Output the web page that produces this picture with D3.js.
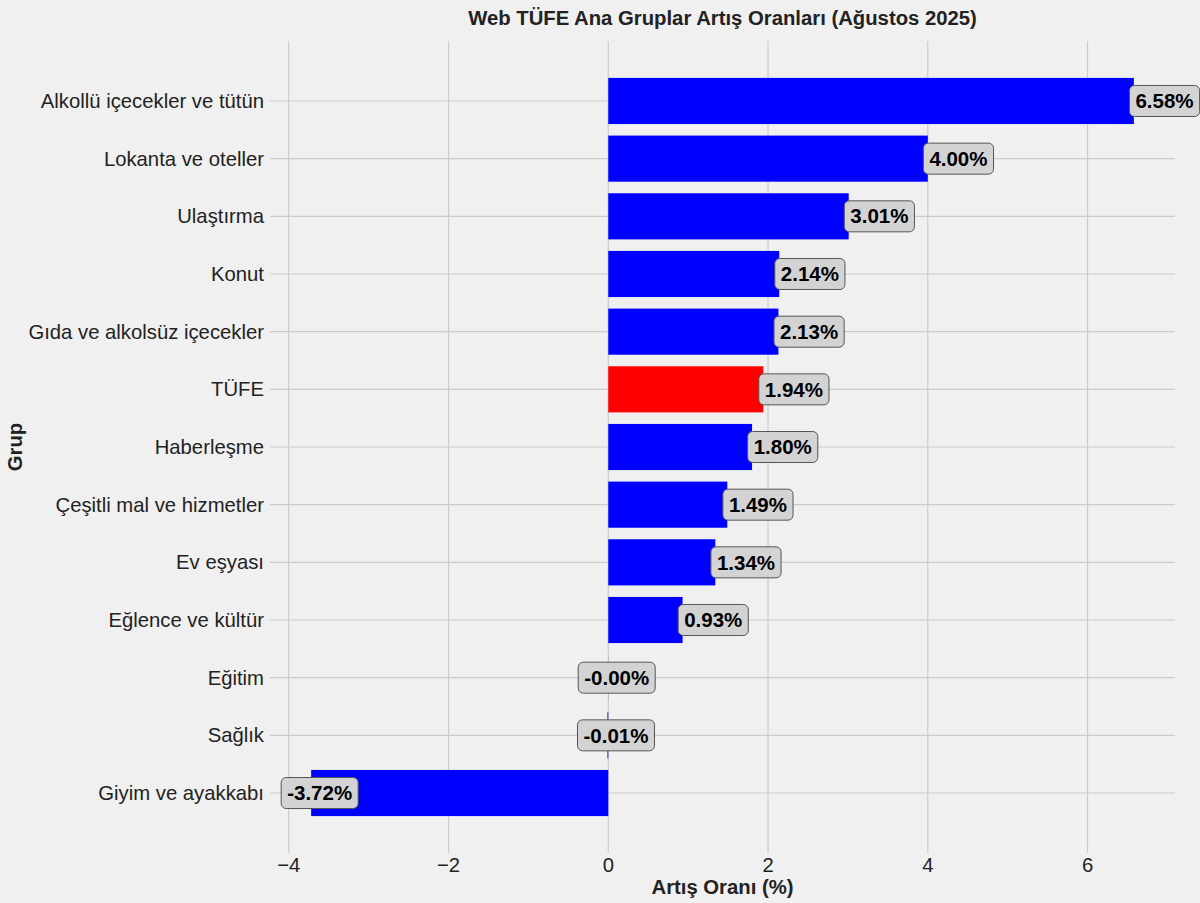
<!DOCTYPE html>
<html><head><meta charset="utf-8">
<script src="https://cdn.jsdelivr.net/npm/d3@7"></script>
<style>html,body{margin:0;padding:0;background:#f0f0f0;}svg{display:block;}</style>
</head><body>
<svg id="c" width="1200" height="903"></svg>
<script>
const categories = ["Alkollü içecekler ve tütün","Lokanta ve oteller","Ulaştırma","Konut","Gıda ve alkolsüz içecekler","TÜFE","Haberleşme","Çeşitli mal ve hizmetler","Ev eşyası","Eğlence ve kültür","Eğitim","Sağlık","Giyim ve ayakkabı"];
const values = [6.58, 4.00, 3.01, 2.14, 2.13, 1.94, 1.80, 1.49, 1.34, 0.93, -0.001, -0.01, -3.72];
const labels = ["6.58%","4.00%","3.01%","2.14%","2.13%","1.94%","1.80%","1.49%","1.34%","0.93%","-0.00%","-0.01%","-3.72%"];
const xTicks = [-4, -2, 0, 2, 4, 6];
const highlight = "TÜFE";

const svg = d3.select("#c");
const font = "'Liberation Sans', Arial, sans-serif";
const L = 270, R = 1175, T = 41, B = 853;
const x = d3.scaleLinear().domain([-4.235, 7.095]).range([L, R]);
const n = categories.length;
const yc = d3.scaleLinear().domain([-1.04, n - 1 + 1.04]).range([T, B]);
const bandH = (yc(1) - yc(0)) * 0.8;

svg.append("rect").attr("width",1200).attr("height",903).attr("fill","#f0f0f0");

const g = svg.append("g");
g.selectAll(".vg").data(xTicks).join("line")
  .attr("x1", d=>x(d)).attr("x2", d=>x(d)).attr("y1", T).attr("y2", B)
  .attr("stroke","#cbcbcb").attr("stroke-width",1.2);
g.selectAll(".hg").data(categories).join("line")
  .attr("x1", L).attr("x2", R).attr("y1", (d,i)=>yc(i)).attr("y2",(d,i)=>yc(i))
  .attr("stroke","#cbcbcb").attr("stroke-width",1.2);

g.selectAll(".bar").data(values).join("rect")
  .attr("x", d=>x(Math.min(0,d)))
  .attr("width", d=>Math.abs(x(d)-x(0)))
  .attr("y", (d,i)=>yc(i)-bandH/2)
  .attr("height", bandH)
  .attr("fill", (d,i)=>categories[i]===highlight ? "#ff0000" : "#0000ff");

const lab = g.selectAll(".lab").data(values).join("g");
lab.each(function(d,i){
  const gg = d3.select(this);
  const tx = d < 0 ? x(d - 0.3) : x(d + 0.02);
  const t = gg.append("text").attr("x", tx).attr("y", yc(i)).attr("dy","0.35em")
    .attr("font-family", font).attr("font-weight","bold").attr("font-size",20.5)
    .attr("fill","#000").text(labels[i]);
  const bb = t.node().getBBox();
  gg.insert("rect","text").attr("x", bb.x-6).attr("y", yc(i)-15.5)
    .attr("width", bb.width+12).attr("height", 31).attr("rx",5).attr("ry",5)
    .attr("fill","#d3d3d3").attr("stroke","#555").attr("stroke-width",1);
});

g.selectAll(".yl").data(categories).join("text")
  .attr("x", L-6).attr("y",(d,i)=>yc(i)).attr("dy","0.35em")
  .attr("text-anchor","end").attr("font-family",font).attr("font-size",20.3)
  .attr("fill","#222").text(d=>d);

g.selectAll(".xl").data(xTicks).join("text")
  .attr("x", d=>x(d)).attr("y", 872)
  .attr("text-anchor","middle").attr("font-family",font).attr("font-size",20.3)
  .attr("fill","#222").text(d=>d3.format("d")(d).replace("-","\u2212"));

svg.append("text").attr("x",(L+R)/2).attr("y",25).attr("text-anchor","middle")
  .attr("font-family",font).attr("font-weight","bold").attr("font-size",20.3)
  .attr("fill","#222").text("Web TÜFE Ana Gruplar Artış Oranları (Ağustos 2025)");
svg.append("text").attr("x",(L+R)/2).attr("y",894).attr("text-anchor","middle")
  .attr("font-family",font).attr("font-weight","bold").attr("font-size",20.3)
  .attr("fill","#222").text("Artış Oranı (%)");
svg.append("text").attr("transform",`translate(22,${(T+B)/2}) rotate(-90)`)
  .attr("text-anchor","middle")
  .attr("font-family",font).attr("font-weight","bold").attr("font-size",20.3)
  .attr("fill","#222").text("Grup");
</script>
</body></html>
